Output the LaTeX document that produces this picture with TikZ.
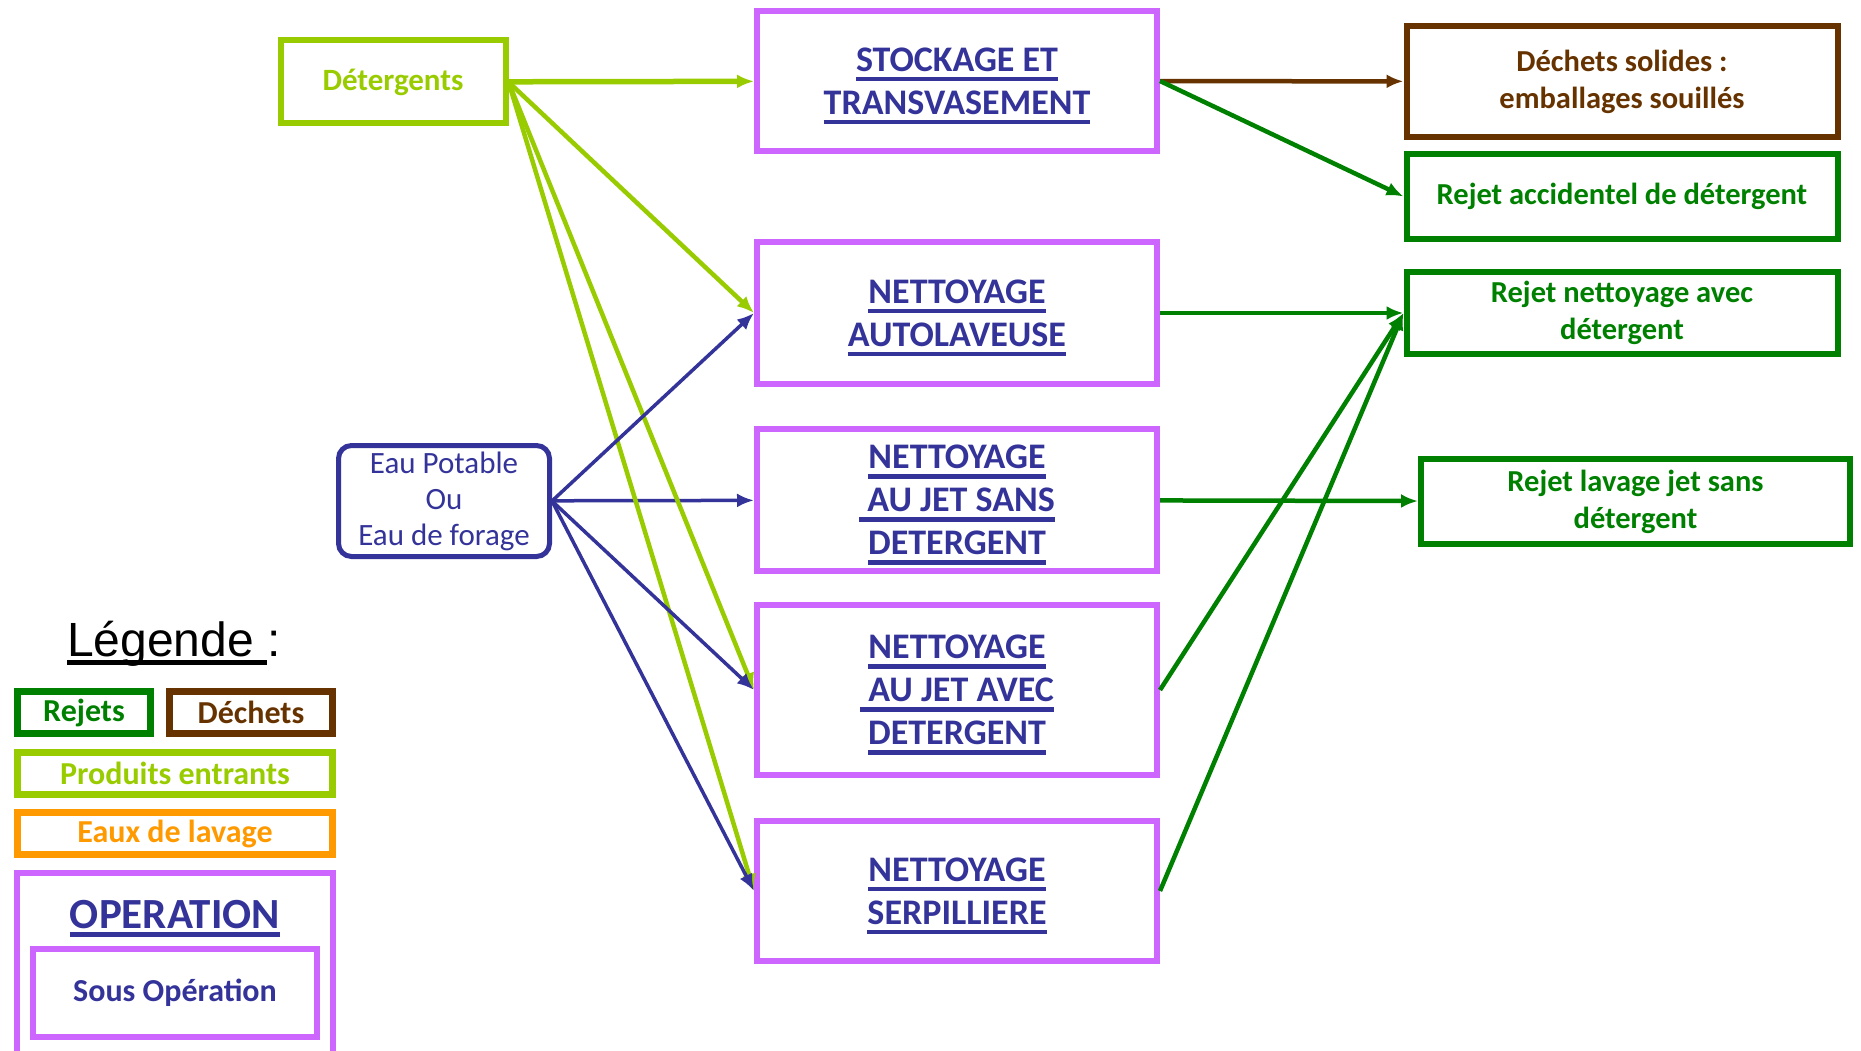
\documentclass[tikz,border=0pt]{standalone}
\usepackage{fontspec}
\setmainfont{Carlito}
\newfontfamily\arialfont{Liberation Sans}
\usepackage{tikz}
\usetikzlibrary{shapes}
\usetikzlibrary{arrows.meta}
\definecolor{opviolet}{HTML}{CC66FF}
\definecolor{opbleu}{HTML}{333399}
\definecolor{vertclair}{HTML}{99CC00}
\definecolor{vertrejet}{HTML}{008000}
\definecolor{brun}{HTML}{663300}
\definecolor{orangelav}{HTML}{FF9900}
\newcommand{\souligne}[2][-10pt]{\setbox0\hbox{#2}\rlap{\smash{\rule[#1]{\wd0}{4.5pt}}}\box0}
\tikzstyle{operation} = [rectangle, minimum width=400pt, minimum height=140pt, text centered, align=center, 
draw=opviolet, line width=6pt, text=opbleu, font=\fontsize{36}{43}\selectfont\bfseries]
\tikzstyle{rejet} = [rectangle, minimum width=431pt, minimum height=85pt, text centered, align=center, 
draw=vertrejet, line width=6pt, text=vertrejet, font=\fontsize{30.5}{37}\selectfont\bfseries]
\tikzstyle{dechet} = [rejet, draw=brun, text=brun]
\tikzstyle{produit} = [rectangle, minimum width=225pt, minimum height=83pt, text centered, draw=vertclair, 
line width=6pt, text=vertclair, font=\fontsize{31}{36}\selectfont\bfseries]
\tikzstyle{eau} = [rectangle, rounded corners=13pt, minimum width=211pt, minimum height=111pt, align=center, 
draw=opbleu, line width=5pt, text=opbleu, font=\fontsize{31}{36}\selectfont]
\tikzstyle{legende} = [rectangle, minimum height=42pt, line width=7pt, text centered, font=\fontsize{32}{36}\selectfont\bfseries]
\tikzstyle{arrow} = [line width=3.5pt, ->, >={Latex[length=17pt, width=14pt]}]

\begin{document}
\begin{tikzpicture}[x=1pt, y=-1pt, node distance=190pt]
    \useasboundingbox (0,0) rectangle (1861,1051);

    % entrants
    \node(Detergents)[produit] at (393,82) {Détergents};

    \node(Eau)[eau] at (444,501) {Eau Potable\\ Ou\\ Eau de forage};

    % operations
    \node(Stockage)[operation] at (957,81) {\souligne{STOCKAGE ET}\\ \souligne{TRANSVASEMENT}}
	  edge[arrow, <-, draw=vertclair, line width=5.5pt](Detergents);

    \node(Autolaveuse)[operation, minimum height=142pt, below of=Stockage, yshift=-42pt]
    {\souligne{NETTOYAGE}\\ \souligne{AUTOLAVEUSE}};

    \node(JetSans)[operation, minimum height=142pt, below of=Autolaveuse, yshift=3pt]
    {\souligne{NETTOYAGE}\\ \souligne{\ AU JET SANS}\\ \souligne{DETERGENT}}
	  edge[arrow, <-, draw=opbleu](Eau);

    \node(JetAvec)[operation, minimum height=170pt, below of=JetSans]
    {\souligne{NETTOYAGE}\\ \souligne{\ AU JET AVEC}\\ \souligne{DETERGENT}};

    \node(Serpilliere)[operation, below of=JetAvec, yshift=-11pt]
    {\souligne{NETTOYAGE}\\ \souligne{SERPILLIERE}};

    % rejets et dechets
    \node(DechetsSolides)[dechet, minimum height=111pt] at (1622,81.5) {Déchets solides :\\ emballages souillés}
	  edge[arrow, <-, draw=brun, line width=4.5pt](Stockage);

    \node(RejetAccidentel)[rejet] at (1622,196.5) {Rejet accidentel de détergent};

    \node(RejetNettoyage)[rejet, minimum height=82pt] at (1622,313) {Rejet nettoyage avec\\ détergent}
	  edge[arrow, <-, draw=vertrejet, line width=4.5pt](Autolaveuse);

    \node(RejetLavage)[rejet, minimum width=429pt] at (1635.5,501.5) {Rejet lavage jet sans\\ détergent}
	  edge[arrow, <-, draw=vertrejet, line width=4.5pt](JetSans);

    \path (Detergents.east) edge[arrow, draw=vertclair, line width=4.5pt] (Autolaveuse.west);
    \path (Detergents.east) edge[arrow, draw=vertclair, line width=4.5pt] (JetAvec.west);
    \path (Detergents.east) edge[arrow, draw=vertclair, line width=4.5pt] (Serpilliere.west);
    \path (Eau.east) edge[arrow, draw=opbleu] (Autolaveuse.west);
    \path (Eau.east) edge[arrow, draw=opbleu] (JetAvec.west);
    \path (Eau.east) edge[arrow, draw=opbleu] (Serpilliere.west);
    \path (Stockage.east) edge[arrow, draw=vertrejet, line width=4.5pt] (RejetAccidentel.west);
    \path (JetAvec.east) edge[arrow, draw=vertrejet, line width=4.5pt] (RejetNettoyage.west);
    \path (Serpilliere.east) edge[arrow, draw=vertrejet, line width=4.5pt] (RejetNettoyage.west);

    % legende
    \node(Legende) at (174,644) {\arialfont\fontsize{48}{56}\selectfont \souligne[-8pt]{Légende\ }:};
    \node(LegRejets)[legende, minimum width=133pt, draw=vertrejet, text=vertrejet] at (84,712.5) {Rejets};
    \node(LegDechets)[legende, minimum width=163pt, draw=brun, text=brun] at (251,712.5) {Déchets};
    \node(LegProduits)[legende, minimum width=315pt, draw=vertclair, text=vertclair] at (175,773.5) {Produits entrants};
    \node(LegEaux)[legende, minimum width=315pt, draw=orangelav, text=orangelav] at (175,833.5) {Eaux de lavage};
    \node(LegOperation)[legende, minimum width=316pt, minimum height=200pt, line width=6pt, draw=opviolet] at (175,973) {};
    \node(LegOpTexte)[text=opbleu, font=\fontsize{43}{50}\selectfont\bfseries] at (175,915) {\souligne[-8pt]{OPERATION}};
    \node(LegSousOp)[legende, minimum width=284pt, minimum height=88pt, line width=6pt, draw=opviolet, text=opbleu] 
    at (175,993) {Sous Opération};

\end{tikzpicture}
\end{document}
